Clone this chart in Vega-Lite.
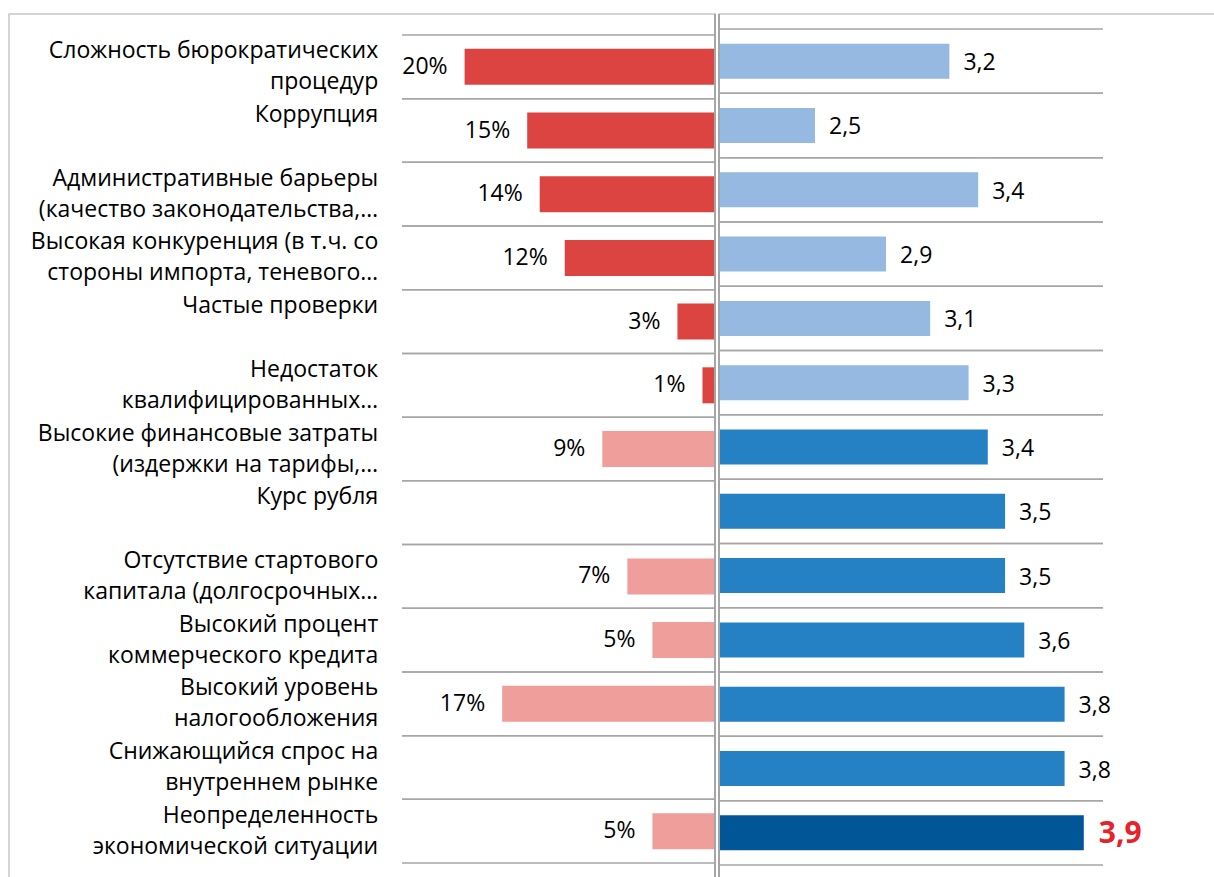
{
  "$schema": "https://vega.github.io/schema/vega-lite/v6.json",
  "padding": {"left": 8, "top": 12, "right": 0, "bottom": 0},
  "autosize": {"type": "pad"},
  "background": "white",
  "bounds": "flush",
  "spacing": 4,
  "config": {
    "view": {"stroke": "#C8C8C8", "strokeWidth": 1.5},
    "font": "Open Sans",
    "text": {"font": "Open Sans"}
  },
  "resolve": {"scale": {"x": "independent", "y": "independent", "color": "independent"}},
  "data": {
    "values": [
      {"cat": "Сложность бюрократических\nпроцедур", "group": "adm", "kind": "adm", "p": 20, "pl": "20%", "s": 3.2, "sl": "3,2"},
      {"cat": "Коррупция\n", "group": "adm", "kind": "adm", "p": 15, "pl": "15%", "s": 2.5, "sl": "2,5"},
      {"cat": "Административные барьеры\n(качество законодательства,…", "group": "adm", "kind": "adm", "p": 14, "pl": "14%", "s": 3.35, "sl": "3,4"},
      {"cat": "Высокая конкуренция (в т.ч. со\nстороны импорта, теневого…", "group": "adm", "kind": "adm", "p": 12, "pl": "12%", "s": 2.87, "sl": "2,9"},
      {"cat": "Частые проверки\n", "group": "adm", "kind": "adm", "p": 3, "pl": "3%", "s": 3.1, "sl": "3,1"},
      {"cat": "Недостаток\nквалифицированных…", "group": "adm", "kind": "adm", "p": 1, "pl": "1%", "s": 3.3, "sl": "3,3"},
      {"cat": "Высокие финансовые затраты\n(издержки на тарифы,…", "group": "fin", "kind": "fin", "p": 9, "pl": "9%", "s": 3.4, "sl": "3,4"},
      {"cat": "Курс рубля\n", "group": "fin", "kind": "fin", "p": null, "pl": null, "s": 3.49, "sl": "3,5"},
      {"cat": "Отсутствие стартового\nкапитала (долгосрочных…", "group": "fin", "kind": "fin", "p": 7, "pl": "7%", "s": 3.49, "sl": "3,5"},
      {"cat": "Высокий процент\nкоммерческого кредита", "group": "fin", "kind": "fin", "p": 5, "pl": "5%", "s": 3.59, "sl": "3,6"},
      {"cat": "Высокий уровень\nналогообложения", "group": "fin", "kind": "fin", "p": 17, "pl": "17%", "s": 3.8, "sl": "3,8"},
      {"cat": "Снижающийся спрос на\nвнутреннем рынке", "group": "fin", "kind": "fin", "p": null, "pl": null, "s": 3.8, "sl": "3,8"},
      {"cat": "Неопределенность\nэкономической ситуации", "group": "fin", "kind": "max", "p": 5, "pl": "5%", "s": 3.9, "sl": "3,9"}
    ]
  },
  "hconcat": [
    {
      "width": 706,
      "height": 870,
      "layer": [
        {
          "mark": {"type": "rule", "color": "#A6A6A6", "strokeWidth": 1.5},
          "encoding": {
            "y": {"field": "cat", "type": "nominal", "sort": null, "axis": null, "bandPosition": 0, "scale": {"paddingInner": 0, "paddingOuter": 0.329}},
            "x": {"datum": 0, "type": "quantitative", "axis": null, "scale": {"domain": [0, 56.39], "reverse": true, "nice": false, "zero": false}},
            "x2": {"datum": 25}
          }
        },
        {
          "mark": {"type": "rule", "color": "#A6A6A6", "strokeWidth": 1.5},
          "encoding": {
            "y": {"field": "cat", "type": "nominal", "sort": null, "axis": null, "bandPosition": 1, "scale": {"paddingInner": 0, "paddingOuter": 0.329}},
            "x": {"datum": 0, "type": "quantitative"},
            "x2": {"datum": 25}
          }
        },
        {
          "transform": [{"filter": "datum.p != null"}],
          "mark": {"type": "bar", "height": {"band": 0.565}},
          "encoding": {
            "y": {"field": "cat", "type": "nominal", "sort": null, "axis": null, "scale": {"paddingInner": 0, "paddingOuter": 0.329}},
            "x": {"field": "p", "type": "quantitative"},
            "x2": {"datum": 0},
            "color": {"field": "group", "type": "nominal", "legend": null, "scale": {"domain": ["adm", "fin"], "range": ["#DB4441", "#F09E9C"]}}
          }
        },
        {
          "transform": [{"filter": "datum.p != null"}],
          "mark": {"type": "text", "align": "right", "baseline": "middle", "dx": -17, "fontSize": 23, "color": "#000000"},
          "encoding": {
            "y": {"field": "cat", "type": "nominal", "sort": null, "axis": null, "scale": {"paddingInner": 0, "paddingOuter": 0.329}},
            "x": {"field": "p", "type": "quantitative"},
            "text": {"field": "pl"}
          }
        },
        {
          "mark": {"type": "text", "align": "right", "baseline": "middle", "dy": -15.5, "lineBreak": "\n", "lineHeight": 31, "fontSize": 23, "color": "#000000"},
          "encoding": {
            "y": {"field": "cat", "type": "nominal", "sort": null, "axis": null, "scale": {"paddingInner": 0, "paddingOuter": 0.329}},
            "x": {"datum": 26.9, "type": "quantitative"},
            "text": {"field": "cat"}
          }
        },
        {
          "mark": {"type": "rule", "color": "#A6A6A6", "strokeWidth": 2},
          "encoding": {"x": {"datum": 0, "type": "quantitative"}}
        }
      ]
    },
    {
      "width": 513,
      "height": 866,
      "layer": [
        {
          "mark": {"type": "rule", "color": "#A6A6A6", "strokeWidth": 1.5},
          "encoding": {
            "y": {"field": "cat", "type": "nominal", "sort": null, "axis": null, "bandPosition": 0, "scale": {"paddingInner": 0, "paddingOuter": 0.234}},
            "x": {"datum": 2, "type": "quantitative", "axis": null, "scale": {"domain": [2, 4.672], "nice": false, "zero": false}},
            "x2": {"datum": 4}
          }
        },
        {
          "mark": {"type": "rule", "color": "#A6A6A6", "strokeWidth": 1.5},
          "encoding": {
            "y": {"field": "cat", "type": "nominal", "sort": null, "axis": null, "bandPosition": 1, "scale": {"paddingInner": 0, "paddingOuter": 0.234}},
            "x": {"datum": 2, "type": "quantitative"},
            "x2": {"datum": 4}
          }
        },
        {
          "mark": {"type": "bar", "height": {"band": 0.545}},
          "encoding": {
            "y": {"field": "cat", "type": "nominal", "sort": null, "axis": null, "scale": {"paddingInner": 0, "paddingOuter": 0.234}},
            "x": {"field": "s", "type": "quantitative"},
            "x2": {"datum": 2},
            "color": {"field": "kind", "type": "nominal", "legend": null, "scale": {"domain": ["adm", "fin", "max"], "range": ["#95B9E0", "#2581C3", "#005696"]}}
          }
        },
        {
          "transform": [{"filter": "datum.kind != 'max'"}],
          "mark": {"type": "text", "align": "left", "baseline": "middle", "dx": 14, "dy": 2, "fontSize": 23, "color": "#000000"},
          "encoding": {
            "y": {"field": "cat", "type": "nominal", "sort": null, "axis": null, "scale": {"paddingInner": 0, "paddingOuter": 0.234}},
            "x": {"field": "s", "type": "quantitative"},
            "text": {"field": "sl"}
          }
        },
        {
          "transform": [{"filter": "datum.kind == 'max'"}],
          "mark": {"type": "text", "align": "left", "baseline": "middle", "dx": 15, "dy": 1, "fontSize": 30, "fontWeight": "bold", "color": "#E8212A"},
          "encoding": {
            "y": {"field": "cat", "type": "nominal", "sort": null, "axis": null, "scale": {"paddingInner": 0, "paddingOuter": 0.234}},
            "x": {"field": "s", "type": "quantitative"},
            "text": {"field": "sl"}
          }
        },
        {
          "mark": {"type": "rule", "color": "#A6A6A6", "strokeWidth": 2},
          "encoding": {"x": {"datum": 2, "type": "quantitative"}}
        }
      ]
    }
  ]
}
